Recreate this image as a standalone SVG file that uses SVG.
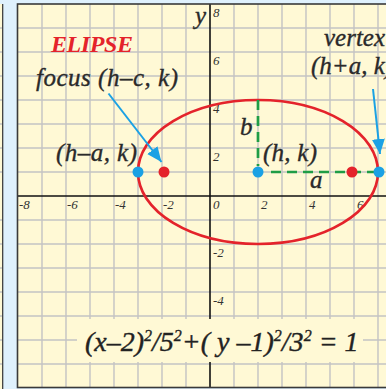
<svg xmlns="http://www.w3.org/2000/svg" width="386" height="389" viewBox="0 0 386 389">
  <defs>
    <style>
      .grid { stroke: #c3c3c3; stroke-width: 1.4; fill: none; }
      .axis { stroke: #111; stroke-width: 1.6; fill: none; }
      .tick { font-family: "Liberation Serif", "Times New Roman", serif; font-style: italic; font-size: 13px; fill: #333; }
      .lbl { font-family: "Liberation Serif", "Times New Roman", serif; font-style: italic; font-size: 25px; fill: #2a2a2a; stroke: #2a2a2a; stroke-width: 0.35; }
      .eq { font-family: "Liberation Serif", "Times New Roman", serif; font-style: italic; font-size: 28px; fill: #222; stroke: #222; stroke-width: 0.4; }
      .sup { font-size: 16px; }
      .title { font-family: "Liberation Serif", "Times New Roman", serif; font-style: italic; font-weight: bold; font-size: 24px; fill: #e4232b; }
      .dash { stroke: #1f9d46; stroke-width: 2.7; stroke-dasharray: 10 6; fill: none; }
      .arrow { stroke: #1ba1e4; stroke-width: 2; fill: none; marker-end: url(#ah); }
      .blue { fill: #1ba1e4; }
      .red { fill: #e4232b; }
    </style>
    <marker id="ah" markerUnits="userSpaceOnUse" markerWidth="16" markerHeight="14" refX="15" refY="6.5" orient="auto">
      <path d="M0,0 L15,6.5 L0,13 z" fill="#1ba1e4"/>
    </marker>
  </defs>

  <!-- background -->
  <rect x="0" y="0" width="386" height="389" fill="#dff1fd"/>
  <!-- neighbouring panel sliver on the left -->
  <rect x="0" y="4" width="2.5" height="385" fill="#fff9d5"/>
  <g class="grid">
    <path d="M0,28H2M0,52H2M0,76H2M0,100H2M0,124H2M0,148H2M0,172H2M0,220H2M0,244H2M0,268H2M0,292H2M0,316H2M0,340H2M0,364H2"/>
  </g>
  <line x1="2.7" y1="4" x2="2.7" y2="389" stroke="#333" stroke-width="1.2"/>

  <!-- main panel -->
  <rect x="17.5" y="4" width="400" height="383.5" fill="#fff9d5"/>
  <g class="grid">
    <path d="M42,4V388M66,4V388M90,4V388M114,4V388M138,4V388M162,4V388M186,4V388M234,4V388M258,4V388M282,4V388M306,4V388M330,4V388M354,4V388M378,4V388"/>
    <path d="M17,28H386M17,52H386M17,76H386M17,100H386M17,124H386M17,148H386M17,172H386M17,220H386M17,244H386M17,268H386M17,292H386M17,316H386M17,340H386M17,364H386"/>
  </g>
  <g class="axis">
    <line x1="210" y1="4" x2="210" y2="388"/>
    <line x1="17" y1="196" x2="386" y2="196"/>
  </g>
  <rect x="17.5" y="4" width="400" height="383.5" fill="none" stroke="#3a3a3a" stroke-width="1.6"/>

  <!-- tick labels -->
  <g id="ticks">
    <text class="tick" x="213" y="17">8</text>
    <text class="tick" x="213" y="65">6</text>
    <text class="tick" x="213" y="113">4</text>
    <text class="tick" x="213" y="161">2</text>
    <text class="tick" x="213" y="257">-2</text>
    <text class="tick" x="213" y="305">-4</text>
    <text class="tick" x="19" y="209">-8</text>
    <text class="tick" x="67" y="209">-6</text>
    <text class="tick" x="115" y="209">-4</text>
    <text class="tick" x="163" y="209">-2</text>
    <text class="tick" x="213" y="209">0</text>
    <text class="tick" x="261" y="209">2</text>
    <text class="tick" x="309" y="209">4</text>
    <text class="tick" x="357" y="209">6</text>
  </g>
  <text id="y-label" class="lbl" x="195" y="24" font-size="26">y</text>

  <!-- ellipse -->
  <g id="ellipse">
    <ellipse cx="258" cy="172" rx="120" ry="72" fill="none" stroke="#e4232b" stroke-width="2.7"/>
  </g>

  <!-- connectors -->
  <g id="connectors">
    <line class="dash" x1="258" y1="100" x2="258" y2="166"/>
    <line class="dash" x1="271" y1="172" x2="378" y2="172"/>
    <line class="arrow" x1="108.5" y1="93.5" x2="161.5" y2="162"/>
    <line class="arrow" x1="373" y1="89" x2="380" y2="154"/>
  </g>

  <!-- points -->
  <g id="left-vertex"><circle class="blue" cx="138" cy="172" r="5.5"/></g>
  <g id="left-focus"><circle class="red" cx="164" cy="172" r="5.5"/></g>
  <g id="center"><circle class="blue" cx="258" cy="172" r="5.5"/></g>
  <g id="right-focus"><circle class="red" cx="352" cy="172" r="5.5"/></g>
  <g id="right-vertex"><circle class="blue" cx="379" cy="172" r="5.5"/></g>

  <!-- labels -->
  <g id="title"><text class="title" x="51" y="52" textLength="82">ELIPSE</text></g>
  <g id="focus-label"><text class="lbl" x="36" y="86" textLength="142">focus (h–c, k)</text></g>
  <g id="hak-label"><text class="lbl" x="56" y="161" textLength="81">(h–a, k)</text></g>
  <g id="hk-label"><text class="lbl" x="263" y="161" textLength="54">(h, k)</text></g>
  <g id="b-label"><text class="lbl" x="240" y="135">b</text></g>
  <g id="a-label"><text class="lbl" x="310" y="188">a</text></g>
  <g id="vertex-label">
    <text class="lbl" x="324" y="46">vertex</text>
    <text class="lbl" x="311" y="74">(h+a, k)</text>
  </g>

  <!-- equation -->
  <g id="equation">
    <rect x="77" y="319" width="286" height="43" fill="#fff9d5"/>
    <text class="eq" x="85" y="351">(x–2)<tspan class="sup" dy="-10">2</tspan><tspan dy="10">/5</tspan><tspan class="sup" dy="-10">2</tspan><tspan dy="10">+( y –1)</tspan><tspan class="sup" dy="-10">2</tspan><tspan dy="10">/3</tspan><tspan class="sup" dy="-10">2</tspan><tspan dy="10"> = 1</tspan></text>
  </g>
</svg>
